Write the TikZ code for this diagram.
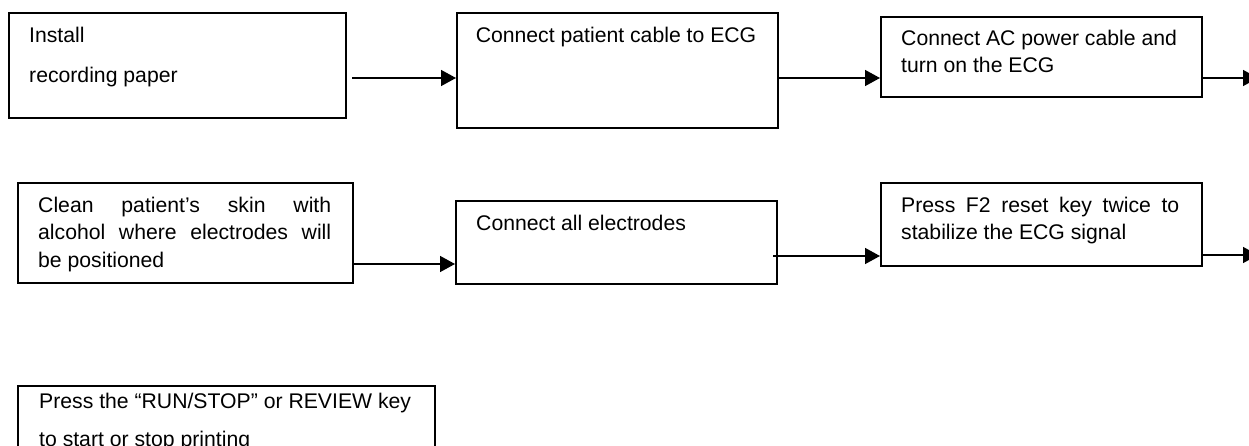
\documentclass[tikz,border=0pt]{standalone}
\usepackage{fontspec}
\setmainfont{Liberation Sans}
\usetikzlibrary{arrows.meta}
\begin{document}
\begin{tikzpicture}[x=1pt,y=-1pt,
  stepbox/.style={draw=black,line width=2pt,inner sep=0pt,anchor=north west},
  txt/.style={inner sep=0pt,anchor=base west,font=\fontsize{21.2}{25}\selectfont},
  arr/.style={draw=black,line width=1.5pt,-{Triangle[length=15pt,width=16pt]}}]
\clip (0,0) rectangle (1249,446);
\fill[white] (0,0) rectangle (1249,446);
% row 1
\node[stepbox,minimum width=337pt,minimum height=105pt] (b1) at (8,12) {};
\node[txt] (t1a) at (29,43) {Install};
\node[txt] (t1b) at (29,83) {recording paper};
\node[stepbox,minimum width=321pt,minimum height=115pt] (b2) at (456,12) {};
\node[txt,anchor=base] (t2) at (616,43) {Connect patient cable to ECG};
\node[stepbox,minimum width=321pt,minimum height=80pt] (b3) at (880,16) {};
\node[txt] (t3a) at (901,46) {Connect AC power cable and};
\node[txt] (t3b) at (901,73) {turn on the ECG};
% row 2
\node[stepbox,minimum width=335pt,minimum height=100pt] (b4) at (17,182) {};
\node[txt] (t4a) at (38,213) {\makebox[293pt][s]{Clean patient’s skin with}};
\node[txt] (t4b) at (38,240) {\makebox[293pt][s]{alcohol where electrodes will}};
\node[txt] (t4c) at (38,267) {be positioned};
\node[stepbox,minimum width=321pt,minimum height=83pt] (b5) at (455,200) {};
\node[txt] (t5) at (476,231) {Connect all electrodes};
\node[stepbox,minimum width=321pt,minimum height=83pt] (b6) at (880,182) {};
\node[txt] (t6a) at (901,213) {\makebox[278pt][s]{Press F2 reset key twice to}};
\node[txt] (t6b) at (901,240) {stabilize the ECG signal};
% row 3
\node[stepbox,minimum width=417pt,minimum height=100pt] (b7) at (17,385) {};
\node[txt] (t7a) at (39,408) {Press the “RUN/STOP” or REVIEW key};
\node[txt] (t7b) at (39,446) {to start or stop printing};
% connectors
\coordinate (s1) at (352,78);
\coordinate (s2) at (777,78);
\coordinate (s3) at (1201,78);
\coordinate (e3) at (1258,78);
\coordinate (s4) at (352,264);
\coordinate (s5) at (773,256);
\coordinate (s6) at (1201,255);
\coordinate (e6) at (1258,255);
\draw[arr] (s1) -- (b2.west |- s1);
\draw[arr] (s2) -- (b3.west |- s2);
\draw[arr] (s3) -- (e3);
\draw[arr] (s4) -- (b5.west |- s4);
\draw[arr] (s5) -- (b6.west |- s5);
\draw[arr] (s6) -- (e6);
\end{tikzpicture}
\end{document}
